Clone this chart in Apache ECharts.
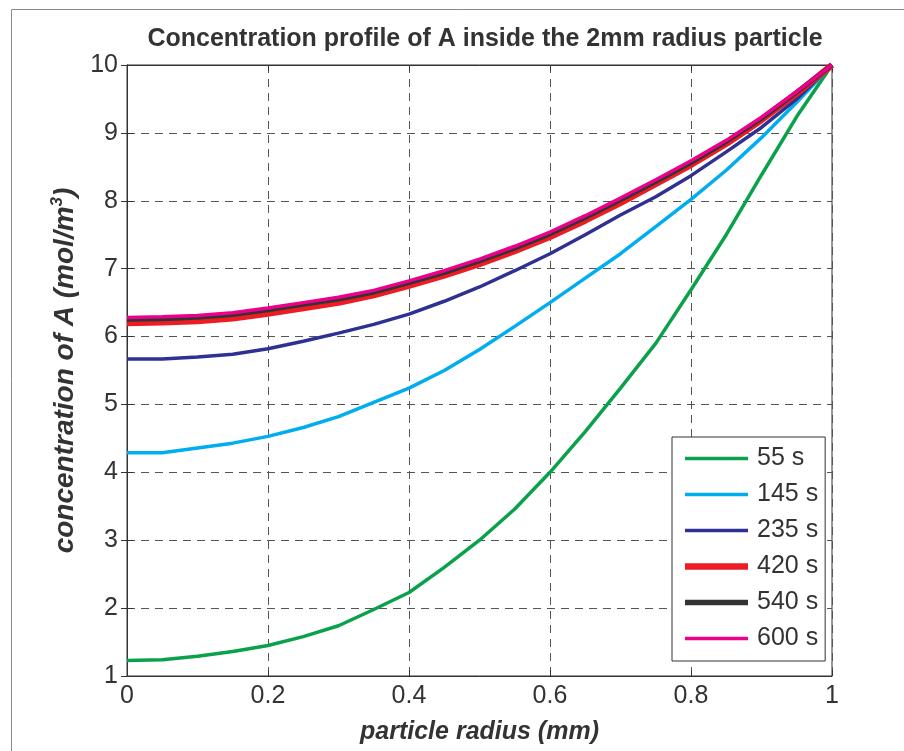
<!DOCTYPE html>
<html>
<head>
<meta charset="utf-8">
<script src="https://cdn.jsdelivr.net/npm/echarts@6/dist/echarts.min.js"></script>
<style>
html,body{margin:0;padding:0;background:#fff;}
#chart{width:904px;height:751px;}
</style>
</head>
<body>
<div id="chart"></div>
<script>
// particle radius (mm), sampled every 0.05
const radius = [0, 0.05, 0.1, 0.15, 0.2, 0.25, 0.3, 0.35, 0.4, 0.45, 0.5, 0.55, 0.6, 0.65, 0.7, 0.75, 0.8, 0.85, 0.9, 0.95, 1.0];
const seriesNames = ['55 s', '145 s', '235 s', '420 s', '540 s', '600 s'];
const c55  = [1.23, 1.24, 1.29, 1.36, 1.45, 1.58, 1.74, 1.98, 2.23, 2.60, 3.00, 3.46, 4.00, 4.60, 5.24, 5.90, 6.69, 7.50, 8.38, 9.24, 10];
const c145 = [4.29, 4.29, 4.36, 4.43, 4.53, 4.66, 4.82, 5.03, 5.24, 5.50, 5.81, 6.15, 6.50, 6.86, 7.22, 7.62, 8.02, 8.45, 8.93, 9.45, 10];
const c235 = [5.67, 5.67, 5.70, 5.74, 5.82, 5.93, 6.05, 6.18, 6.33, 6.52, 6.73, 6.97, 7.22, 7.50, 7.79, 8.06, 8.37, 8.72, 9.08, 9.50, 10];
const c420 = [6.20, 6.21, 6.23, 6.27, 6.34, 6.42, 6.50, 6.61, 6.75, 6.90, 7.07, 7.26, 7.47, 7.71, 7.97, 8.25, 8.53, 8.84, 9.19, 9.58, 10];
const c540 = [6.25, 6.26, 6.28, 6.32, 6.39, 6.47, 6.55, 6.65, 6.79, 6.94, 7.11, 7.30, 7.51, 7.75, 8.01, 8.28, 8.56, 8.87, 9.21, 9.60, 10];
const c600 = [6.28, 6.29, 6.31, 6.35, 6.42, 6.50, 6.58, 6.68, 6.82, 6.97, 7.14, 7.33, 7.54, 7.78, 8.04, 8.31, 8.59, 8.89, 9.23, 9.61, 10];
const xTicks = [0, 0.2, 0.4, 0.6, 0.8, 1];
const yTicks = [1, 2, 3, 4, 5, 6, 7, 8, 9, 10];

const allValues = [c55, c145, c235, c420, c540, c600];
const colors = ['#0aa14b', '#00aeef', '#2e3192', '#ed1c24', '#333333', '#ec008c'];
const widths = [3.5, 3.5, 3.5, 6.5, 4.5, 3.5];
const legendWidths = [3.5, 3.5, 3.5, 6.5, 5.5, 3.5];

const FONT = 'Liberation Sans, Arial, sans-serif';
const chart = echarts.init(document.getElementById('chart'));

const series = allValues.map((vals, k) => ({
  name: seriesNames[k],
  type: 'line',
  data: radius.map((r, i) => [r, vals[i]]),
  symbol: 'none',
  smooth: false,
  lineStyle: {color: colors[k], width: widths[k]},
  itemStyle: {color: colors[k]},
  z: 2 + k,
  animation: false
}));

chart.setOption({
  backgroundColor: '#ffffff',
  animation: false,
  title: {
    text: 'Concentration profile of A inside the 2mm radius particle',
    left: 480, top: 22, textAlign: 'center',
    textStyle: {fontFamily: FONT, fontWeight: 'bold', fontSize: 25, color: '#333'}
  },
  graphic: [{
    type: 'rect', left: 9, top: 7, z: -10,
    shape: {x: 0, y: 0, width: 1000, height: 1000},
    style: {fill: 'none', stroke: '#8a8a8a', lineWidth: 1}
  }],
  grid: {left: 127, right: 72, top: 65, bottom: 75, show: true, borderColor: '#333', borderWidth: 1, backgroundColor: 'transparent'},
  legend: {
    orient: 'vertical', left: 672, top: 437,
    padding: [9, 7, 10, 13],
    itemWidth: 63, itemHeight: 14, itemGap: 11,
    symbolKeepAspect: true,
    backgroundColor: '#fff', borderColor: '#333', borderWidth: 1,
    textStyle: {fontFamily: FONT, fontSize: 25, color: '#333', lineHeight: 24, padding: [0, 0, 0, 4]},
    data: seriesNames.map((n, k) => ({
      name: n,
      icon: 'path://M0,0H63V' + legendWidths[k] + 'H0Z',
      itemStyle: {color: colors[k], borderWidth: 0}
    }))
  },
  xAxis: [{
    type: 'value', min: 0, max: 1, interval: 0.2,
    name: 'particle radius (mm)', nameLocation: 'middle', nameGap: 44,
    nameTextStyle: {fontFamily: FONT, fontWeight: 'bold', fontStyle: 'italic', fontSize: 25, color: '#333'},
    axisLine: {show: true, lineStyle: {color: '#333', width: 1}},
    axisTick: {show: true, inside: true, length: 6, lineStyle: {color: '#333'}},
    axisLabel: {fontFamily: FONT, fontSize: 25, color: '#333', margin: 8,
      formatter: v => xTicks.includes(Math.round(v * 10) / 10) ? String(Math.round(v * 10) / 10) : ''},
    splitLine: {show: true, lineStyle: {color: '#555', type: [8, 6], width: 1}}
  }, {
    type: 'value', min: 0, max: 1, interval: 0.2, position: 'top',
    axisLine: {show: true, lineStyle: {color: '#333'}},
    axisTick: {show: true, inside: true, length: 6, lineStyle: {color: '#333'}},
    axisLabel: {show: false}, splitLine: {show: false}
  }],
  yAxis: [{
    type: 'value', min: 1, max: 10, interval: 1,
    name: '{a|concentration of A (mol/m}{s|3}{a|)}',
    nameLocation: 'middle', nameGap: 42,
    nameTextStyle: {
      fontFamily: FONT, fontWeight: 'bold', fontStyle: 'italic', fontSize: 28, color: '#333',
      rich: {
        a: {fontFamily: FONT, fontWeight: 'bold', fontStyle: 'italic', fontSize: 28, color: '#333', lineHeight: 32},
        s: {fontFamily: FONT, fontWeight: 'bold', fontStyle: 'italic', fontSize: 17, color: '#333', verticalAlign: 'top', lineHeight: 32, padding: [0, 0, 12, 0]}
      }
    },
    axisLine: {show: true, lineStyle: {color: '#333', width: 1}},
    axisTick: {show: true, inside: true, length: 6, lineStyle: {color: '#333'}},
    axisLabel: {fontFamily: FONT, fontSize: 25, color: '#333', margin: 9,
      formatter: v => yTicks.includes(v) ? String(v) : ''},
    splitLine: {show: true, lineStyle: {color: '#555', type: [8, 6], width: 1}}
  }, {
    type: 'value', min: 1, max: 10, interval: 1, position: 'right',
    axisLine: {show: true, lineStyle: {color: '#333'}},
    axisTick: {show: true, inside: true, length: 6, lineStyle: {color: '#333'}},
    axisLabel: {show: false}, splitLine: {show: false}
  }],
  series: series
});
</script>
</body>
</html>
